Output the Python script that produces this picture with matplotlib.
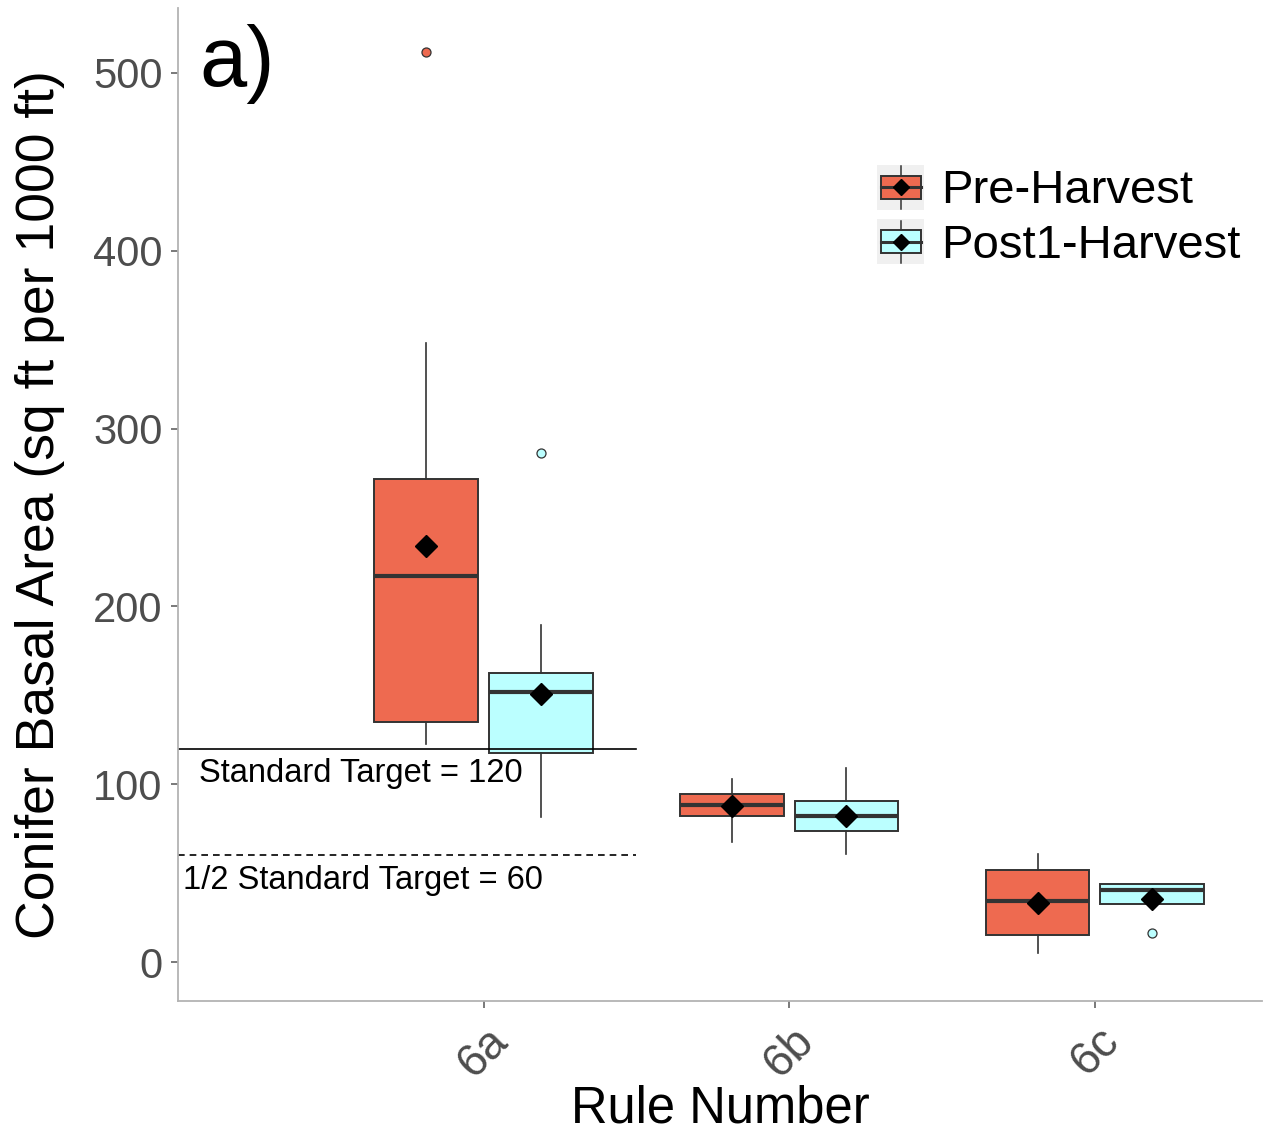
import matplotlib
matplotlib.use('Agg')
import matplotlib.pyplot as plt
from matplotlib.legend_handler import HandlerBase
from matplotlib.patches import Rectangle, Patch
from matplotlib.lines import Line2D

plt.rcParams['font.family'] = ['Liberation Sans', 'DejaVu Sans']

# Data
rules = ['6a', '6b', '6c']
groups = ['Pre-Harvest', 'Post1-Harvest']

pre_q1 = [135, 82, 15]
pre_med = [217, 88.5, 34.5]
pre_q3 = [271.5, 94.5, 51.5]
pre_lo = [122.5, 67.5, 5]
pre_hi = [348, 103, 60.5]
pre_mean = [234, 87.5, 33]
pre_out = [[512], [], []]

post_q1 = [117.5, 73.5, 32.5]
post_med = [152, 82, 40.5]
post_q3 = [162.5, 90.5, 44]
post_lo = [81.5, 60.5, 32.5]
post_hi = [189.5, 109, 44]
post_mean = [151, 82, 35.5]
post_out = [[286.5], [], [16.5]]

standard_target = 120
half_target = 60

colors = ['#EE6A50', '#BBFFFF']
edge = '#333333'


def make_stats(q1, med, q3, lo, hi, mean, out):
    stats = []
    for i in range(len(q1)):
        stats.append(dict(q1=q1[i], med=med[i], q3=q3[i], whislo=lo[i],
                          whishi=hi[i], mean=mean[i], fliers=out[i]))
    return stats


class BoxHandler(HandlerBase):
    def create_artists(self, legend, orig_handle, xdescent, ydescent,
                       width, height, fontsize, trans):
        x0, y0 = -xdescent, -ydescent
        cx, cy = x0 + width / 2, y0 + height / 2
        bg = Rectangle((x0, y0), width, height, fc='#f0f0f0', ec='none', transform=trans)
        whisk = Line2D([cx, cx], [y0 + 1, y0 + height - 1], color=edge, lw=1.1, transform=trans)
        box = Rectangle((x0 + width * 0.08, y0 + height * 0.25), width * 0.84, height * 0.5,
                        fc=orig_handle.get_facecolor(), ec=edge, lw=1.4, transform=trans)
        med = Line2D([x0 + width * 0.08, x0 + width * 0.92], [cy, cy], color=edge, lw=2.2,
                     transform=trans)
        dia = Line2D([cx], [cy], marker='D', ms=8, color='black', ls='none', transform=trans)
        return [bg, whisk, box, med, dia]


fig = plt.figure(figsize=(12.63, 11.35), dpi=100)
ax = fig.add_axes([0.1409, 0.1181, 0.8583, 0.875])

xpos = [1, 2, 3]
offset = 0.1875
all_stats = [make_stats(pre_q1, pre_med, pre_q3, pre_lo, pre_hi, pre_mean, pre_out),
             make_stats(post_q1, post_med, post_q3, post_lo, post_hi, post_mean, post_out)]

for g, stats in enumerate(all_stats):
    pos = [x + (offset if g else -offset) for x in xpos]
    ax.bxp(stats, positions=pos, widths=0.34, patch_artist=True, showcaps=False,
           showmeans=True,
           boxprops=dict(facecolor=colors[g], edgecolor=edge, linewidth=1.4),
           medianprops=dict(color=edge, linewidth=3),
           whiskerprops=dict(color=edge, linewidth=1.2),
           flierprops=dict(marker='o', markerfacecolor=colors[g], markeredgecolor=edge,
                           markersize=6.5, markeredgewidth=0.9),
           meanprops=dict(marker='D', markerfacecolor='black', markeredgecolor='black',
                          markersize=11))

# target lines
ax.plot([0, 1.5], [standard_target, standard_target], color='black', lw=1.2)
ax.plot([0, 1.5], [half_target, half_target], color='black', lw=1.2, ls=(0, (4, 3)))
ax.text(0.07, standard_target - 14, 'Standard Target = 120', fontsize=23.5,
        ha='left', va='center')
ax.text(0.015, half_target - 14, '1/2 Standard Target = 60', fontsize=23.5,
        ha='left', va='center')

ax.text(0.07, 505, 'a)', fontsize=61, ha='left', va='center')

ax.set_xlim(0, 3.547)
ax.set_ylim(-21.9, 536.6)
ax.set_xticks(xpos)
ax.set_xticklabels(rules, rotation=45, ha='center')
ax.set_yticks([0, 100, 200, 300, 400, 500])

for s in ['top', 'right']:
    ax.spines[s].set_visible(False)
for s in ['left', 'bottom']:
    ax.spines[s].set_color('#b3b3b3')
    ax.spines[s].set_linewidth(1.3)
ax.tick_params(axis='both', colors='#555555', labelcolor='#4d4d4d', length=5,
               width=1.1, labelsize=30)
ax.tick_params(axis='y', pad=6)
ax.tick_params(axis='x', pad=8, labelsize=33)

ax.set_xlabel('Rule Number', fontsize=36.5, labelpad=-1)
ax.set_ylabel('Conifer Basal Area (sq ft per 1000 ft)', fontsize=38.5, labelpad=20)

handles = [Patch(facecolor=colors[0], label=groups[0]),
           Patch(facecolor=colors[1], label=groups[1])]
ax.legend(handles=handles, loc='upper left', bbox_to_anchor=(0.645, 0.842),
          frameon=False, fontsize=34, handler_map={Patch: BoxHandler()},
          handlelength=1.0, handleheight=1.1, handletextpad=0.36,
          labelspacing=0.12, borderpad=0, borderaxespad=0)

fig.savefig('out.png', dpi=100)
